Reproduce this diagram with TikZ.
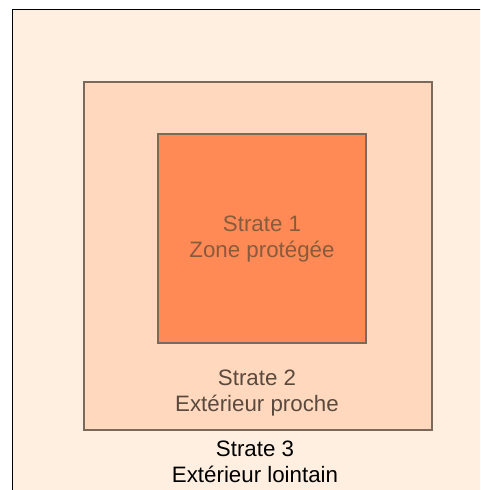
\documentclass[tikz,border=0pt]{standalone}
\usepackage{fontspec}
\setmainfont{Liberation Sans}
\definecolor{outerfill}{HTML}{FEEFE0}
\definecolor{midfill}{HTML}{FFD8BE}
\definecolor{innerfill}{HTML}{FF8A56}
\definecolor{boxline}{HTML}{7A6A5C}
\definecolor{txtone}{HTML}{8A5A3C}
\definecolor{txttwo}{HTML}{5A4A3E}
\tikzset{
  stratbox/.style={draw=boxline, line width=1.5pt},
  strattext/.style={align=center, inner sep=0pt, font=\fontsize{22.3}{26}\selectfont}
}
\begin{document}
\begin{tikzpicture}[x=1pt,y=1pt]
\useasboundingbox (0,0) rectangle (480,490);
\clip (0,0) rectangle (480,490);
\fill[white] (0,0) rectangle (480,490);
\draw[fill=outerfill, draw=black, line width=1.5pt] (12.5,-20) rectangle (500,480.5);
\draw[stratbox, fill=midfill] (84,408) rectangle (432,60);
\draw[stratbox, fill=innerfill] (158,356) rectangle (366,147);
\node[strattext, text=txtone] (s1) at (262,251) {Strate 1\\Zone protégée};
\node[strattext, text=txttwo] (s2) at (257,97) {Strate 2\\Extérieur proche};
\node[strattext, text=black] (s3) at (255,28) {Strate 3\\Extérieur lointain};
\end{tikzpicture}
\end{document}
